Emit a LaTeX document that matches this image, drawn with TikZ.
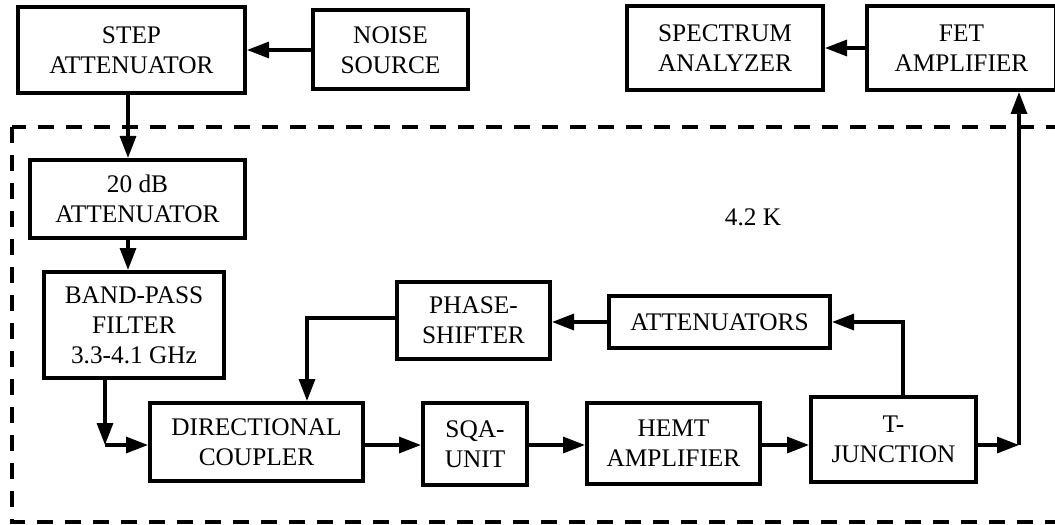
\documentclass[tikz,border=0pt]{standalone}
\usepackage{fontspec}
\setmainfont{Liberation Serif}
\usepackage{tikz}
\usetikzlibrary{arrows.meta, calc}
\tikzset{
    % Box styles - all sharp corners
    block/.style={
        rectangle,
        draw=black,
        fill=white,
        line width=3pt,
        inner sep=0pt,
        align=center,
        font=\fontsize{19}{22.5}\selectfont
    },
    % Arrow styles - straight lines only
    arrow/.style={
        -{Triangle[length=16.5pt, width=12pt]},
        line width=2.4pt,
        draw=black
    },
    coldzone/.style={
        draw=black,
        line width=3.5pt,
        dash pattern=on 12pt off 9pt
    }
}

\begin{document}
\begin{tikzpicture}[x=0.75pt, y=-0.75pt]
    \useasboundingbox (0,0) rectangle (1055,524);
    \clip (0,0) rectangle (1055,524);

    % 4.2 K stage
    \draw[coldzone] (12,127) rectangle (1080,522);
    \node[font=\fontsize{19}{22.5}\selectfont] (temp) at (753,217) {4.2 K};

    \node[block, minimum width=227pt*0.75, minimum height=86pt*0.75] (step) at (131.5,50) {STEP\\ATTENUATOR};
    \node[block, minimum width=155pt*0.75, minimum height=79pt*0.75] (noise) at (390.5,50) {NOISE\\SOURCE};
    \node[block, minimum width=196pt*0.75, minimum height=84pt*0.75] (spec) at (725,48) {SPECTRUM\\ANALYZER};
    \node[block, minimum width=189pt*0.75, minimum height=84pt*0.75] (fet) at (961.5,48) {FET\\AMPLIFIER};

    \node[block, minimum width=215pt*0.75, minimum height=78pt*0.75] (att20) at (137.5,199) {20 dB\\ATTENUATOR};
    \node[block, minimum width=180pt*0.75, minimum height=106pt*0.75] (bpf) at (134,325) {BAND-PASS\\FILTER\\3.3-4.1 GHz};
    \node[block, minimum width=153pt*0.75, minimum height=77pt*0.75] (phase) at (473.5,320.5) {PHASE-\\SHIFTER};
    \node[block, minimum width=221pt*0.75, minimum height=52pt*0.75] (atten) at (719.5,322) {ATTENUATORS};

    \node[block, minimum width=213pt*0.75, minimum height=78pt*0.75] (coupler) at (256.5,442) {DIRECTIONAL\\COUPLER};
    \node[block, minimum width=104pt*0.75, minimum height=82pt*0.75] (sqa) at (475,444) {SQA-\\UNIT};
    \node[block, minimum width=173pt*0.75, minimum height=81pt*0.75] (hemt) at (673.5,443.5) {HEMT\\AMPLIFIER};
    \node[block, minimum width=165pt*0.75, minimum height=85pt*0.75] (tjunc) at (893.5,439.5) {T-\\JUNCTION};

    \coordinate (row) at (0,445);
    \coordinate (c1) at (105,445);
    \coordinate (c2) at (1019,445);
    \coordinate (c3) at (903,322);
    \coordinate (c4) at (307,318);

    \draw[arrow] (noise.west) -- (step.east);
    \draw[arrow] ($(step.south)+(-3.5,0)$) -- ($(step.south |- att20.north)+(-3.5,0)$);
    \draw[arrow] ($(att20.south)+(-9.5,0)$) -- ($(att20.south |- bpf.north)+(-9.5,0)$);
    \draw[arrow] (bpf.south -| c1) -- (c1);
    \draw[arrow] (c1) -- (c1 -| coupler.west);
    \draw[arrow] (coupler.east |- row) -- (sqa.west |- row);
    \draw[arrow] (sqa.east |- row) -- (hemt.west |- row);
    \draw[arrow] (hemt.east |- row) -- (tjunc.west |- row);
    \draw[arrow] (tjunc.east |- row) -- (c2);
    \draw[arrow] (c2) -- (c2 |- fet.south);
    \draw[arrow] (fet.west) -- (spec.east);
    \draw[arrow] (tjunc.north -| c3) -- (c3) -- (atten.east |- c3);
    \draw[arrow] (atten.west) -- (phase.east |- atten.west);
    \draw[arrow] (phase.west |- c4) -- (c4) -- (c4 |- coupler.north);
\end{tikzpicture}
\end{document}
